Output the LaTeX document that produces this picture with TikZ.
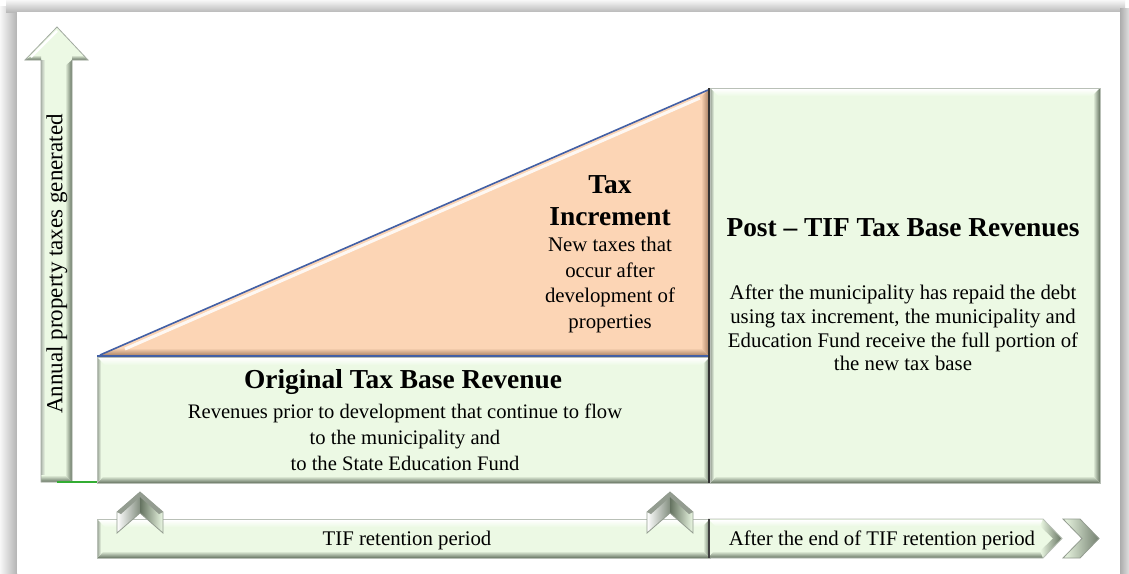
\documentclass[tikz,border=0pt]{standalone}
\usepackage{fontspec}
\setmainfont{Liberation Serif}
\usepackage{tikz}
\definecolor{boxgreen}{RGB}{236,249,228}
\definecolor{bevdark}{RGB}{100,114,96}
\definecolor{incorange}{RGB}{252,213,181}
\definecolor{orgdark}{RGB}{176,136,106}
\definecolor{edgeblue}{RGB}{66,96,166}
% bevelled green panel: x1,y1,x2,y2 (pixel units, y down)
\newcommand{\bevelbox}[4]{%
  \fill[boxgreen] (#1,#2) rectangle (#3,#4);
  \shade[top color=white,bottom color=boxgreen] (#1+1,#2+1) -- (#3-1,#2+1) -- (#3-8,#2+8) -- (#1+8,#2+8) -- cycle;
  \shade[left color=boxgreen,right color=bevdark] (#3,#2) -- (#3,#4) -- (#3-7,#4-7) -- (#3-7,#2+7) -- cycle;
  \shade[top color=boxgreen,bottom color=bevdark] (#1,#4) -- (#3,#4) -- (#3-7,#4-7) -- (#1+7,#4-7) -- cycle;
  \shade[left color=bevdark!70,right color=boxgreen] (#1,#2) -- (#1+4,#2+4) -- (#1+4,#4-4) -- (#1,#4) -- cycle;
  \draw[bevdark!45,line width=0.4pt] (#1,#2) rectangle (#3,#4);
}
% small up chevron centred at x=#1
\newcommand{\upchev}[1]{%
  \shade[left color=white,right color=bevdark!80] (#1,492) -- (#1-23,512) -- (#1-23,533) -- (#1,513) -- cycle;
  \shade[left color=bevdark,right color=boxgreen] (#1,492) -- (#1+23,512) -- (#1+23,533) -- (#1,513) -- cycle;
  \fill[bevdark!70] (#1,492) -- (#1-23,512) -- (#1-19,514) -- (#1,497) -- (#1+19,514) -- (#1+23,512) -- cycle;
  \draw[bevdark!70,line width=0.4pt] (#1,492) -- (#1-23,512) -- (#1-23,533) -- (#1,513) -- (#1+23,533) -- (#1+23,512) -- cycle;
}

\begin{document}
\begin{tikzpicture}[x=0.5pt,y=-0.5pt,
  headtxt/.style={font=\fontsize{13.7}{16}\selectfont\bfseries,align=center,inner sep=0pt},
  bodytxt/.style={font=\fontsize{10.4}{12.8}\selectfont,align=center,inner sep=0pt},
  bartxt/.style={font=\fontsize{10.4}{12}\selectfont,inner sep=0pt}]
  \useasboundingbox (0,0) rectangle (1129,573);
  % page frame with its shadow
  \fill[white] (0,0) rectangle (1129,573);
  \shade[left color=gray!6,right color=gray!60] (0,6) rectangle (17,573);
  \shade[top color=gray!6,bottom color=gray!55] (6,0) rectangle (1125,12);
  \shade[left color=gray!65,right color=gray!25] (1120,8) rectangle (1129,573);
  \fill[white] (17,12) rectangle (1120,573);

  % vertical axis arrow
  \fill[boxgreen] (41,482) -- (41,60) -- (25,60) -- (57,27) -- (88,60) -- (72,60) -- (72,482) -- cycle;
  \shade[left color=bevdark!50,right color=boxgreen] (41,482) -- (41,60) -- (45,60) -- (45,478) -- cycle;
  \shade[left color=boxgreen,right color=bevdark] (65,66) -- (72,60) -- (72,482) -- (65,475) -- cycle;
  \shade[top color=boxgreen,bottom color=bevdark] (41,475) -- (65,475) -- (72,482) -- (41,482) -- cycle;
  \shade[top color=boxgreen,bottom color=bevdark] (33,55) -- (41,55) -- (41,60) -- (25,60) -- cycle;
  \shade[top color=boxgreen,bottom color=bevdark] (72,55) -- (82,55) -- (88,60) -- (72,60) -- cycle;
  \draw[white,line width=1.2pt] (31,57) -- (57,31);
  \draw[bevdark!60,line width=0.4pt] (41,482) -- (41,60) -- (25,60) -- (57,27) -- (88,60) -- (72,60) -- (72,482) -- cycle;
  \node[rotate=90,font=\fontsize{11.5}{12}\selectfont,inner sep=0pt] (axisLabel) at (57,264) {Annual property taxes generated};
  \draw[green!60!black!80,line width=0.6pt] (57,482) -- (107,482);

  % revenue panels
  \bevelbox{97}{357}{710}{483}
  \bevelbox{710}{88}{1100}{483}

  % tax increment wedge
  \fill[incorange] (100,355) -- (708,90) -- (708,355) -- cycle;
  \shade[top color=incorange,bottom color=orgdark] (116,348) -- (701,348) -- (708,355) -- (100,355) -- cycle;
  \shade[left color=incorange,right color=orgdark] (701,97) -- (708,90) -- (708,355) -- (701,348) -- cycle;
  \draw[white,line width=1.5pt,opacity=.85] (125,349) -- (700,98);
  \draw[edgeblue,line width=0.8pt] (100,355) -- (708,90);
  \draw[edgeblue,line width=0.6pt] (97,356) -- (708,356);
  \draw[black!80,line width=0.9pt] (709,88) -- (709,483);

  \node[headtxt] (taxHead) at (610,201) {Tax\\Increment};
  \node[bodytxt,font=\fontsize{10.4}{12.7}\selectfont] (taxBody) at (610,285) {New taxes that\\occur after\\development of\\properties};
  \node[headtxt] (postHead) at (903,228) {Post -- TIF Tax Base Revenues};
  \node[bodytxt,font=\fontsize{10.4}{11.9}\selectfont] (postBody) at (903,328) {After the municipality has repaid the debt\\using tax increment, the municipality and\\Education Fund receive the full portion of\\the new tax base};
  \node[headtxt] (origHead) at (403,382) {Original Tax Base Revenue};
  \node[bodytxt,font=\fontsize{10.3}{13}\selectfont] (origBody) at (405,437) {Revenues prior to development that continue to flow\\to the municipality and\\to the State Education Fund};

  % time bars along the bottom
  \bevelbox{97}{519}{710}{558}
  \fill[boxgreen] (708,519) -- (1043,519) -- (1062,538.5) -- (1043,558) -- (708,558) -- cycle;
  \shade[top color=white,bottom color=boxgreen] (709,520) -- (1043,520) -- (1049,526) -- (715,526) -- cycle;
  \shade[top color=boxgreen,bottom color=bevdark] (708,558) -- (1043,558) -- (1050,551) -- (714,551) -- cycle;
  \shade[left color=boxgreen,right color=bevdark] (1043,519) -- (1062,538.5) -- (1043,558) -- (1040,551) -- (1053,538.5) -- (1040,526) -- cycle;
  \draw[bevdark!45,line width=0.4pt] (708,519) -- (1043,519) -- (1062,538.5) -- (1043,558) -- (708,558);
  \draw[black!75,line width=0.9pt] (709,519) -- (709,558);
  \shade[left color=boxgreen,right color=bevdark!90] (1063,519) -- (1080,519) -- (1099,538.5) -- (1080,558) -- (1063,558) -- (1082,538.5) -- cycle;
  \draw[bevdark!70,line width=0.4pt] (1063,519) -- (1080,519) -- (1099,538.5) -- (1080,558) -- (1063,558) -- (1082,538.5) -- cycle;
  \upchev{140}
  \upchev{670}
  \node[bartxt] (tifLabel) at (407,540) {TIF retention period};
  \node[bartxt] (afterLabel) at (882,540) {After the end of TIF retention period};
\end{tikzpicture}
\end{document}
